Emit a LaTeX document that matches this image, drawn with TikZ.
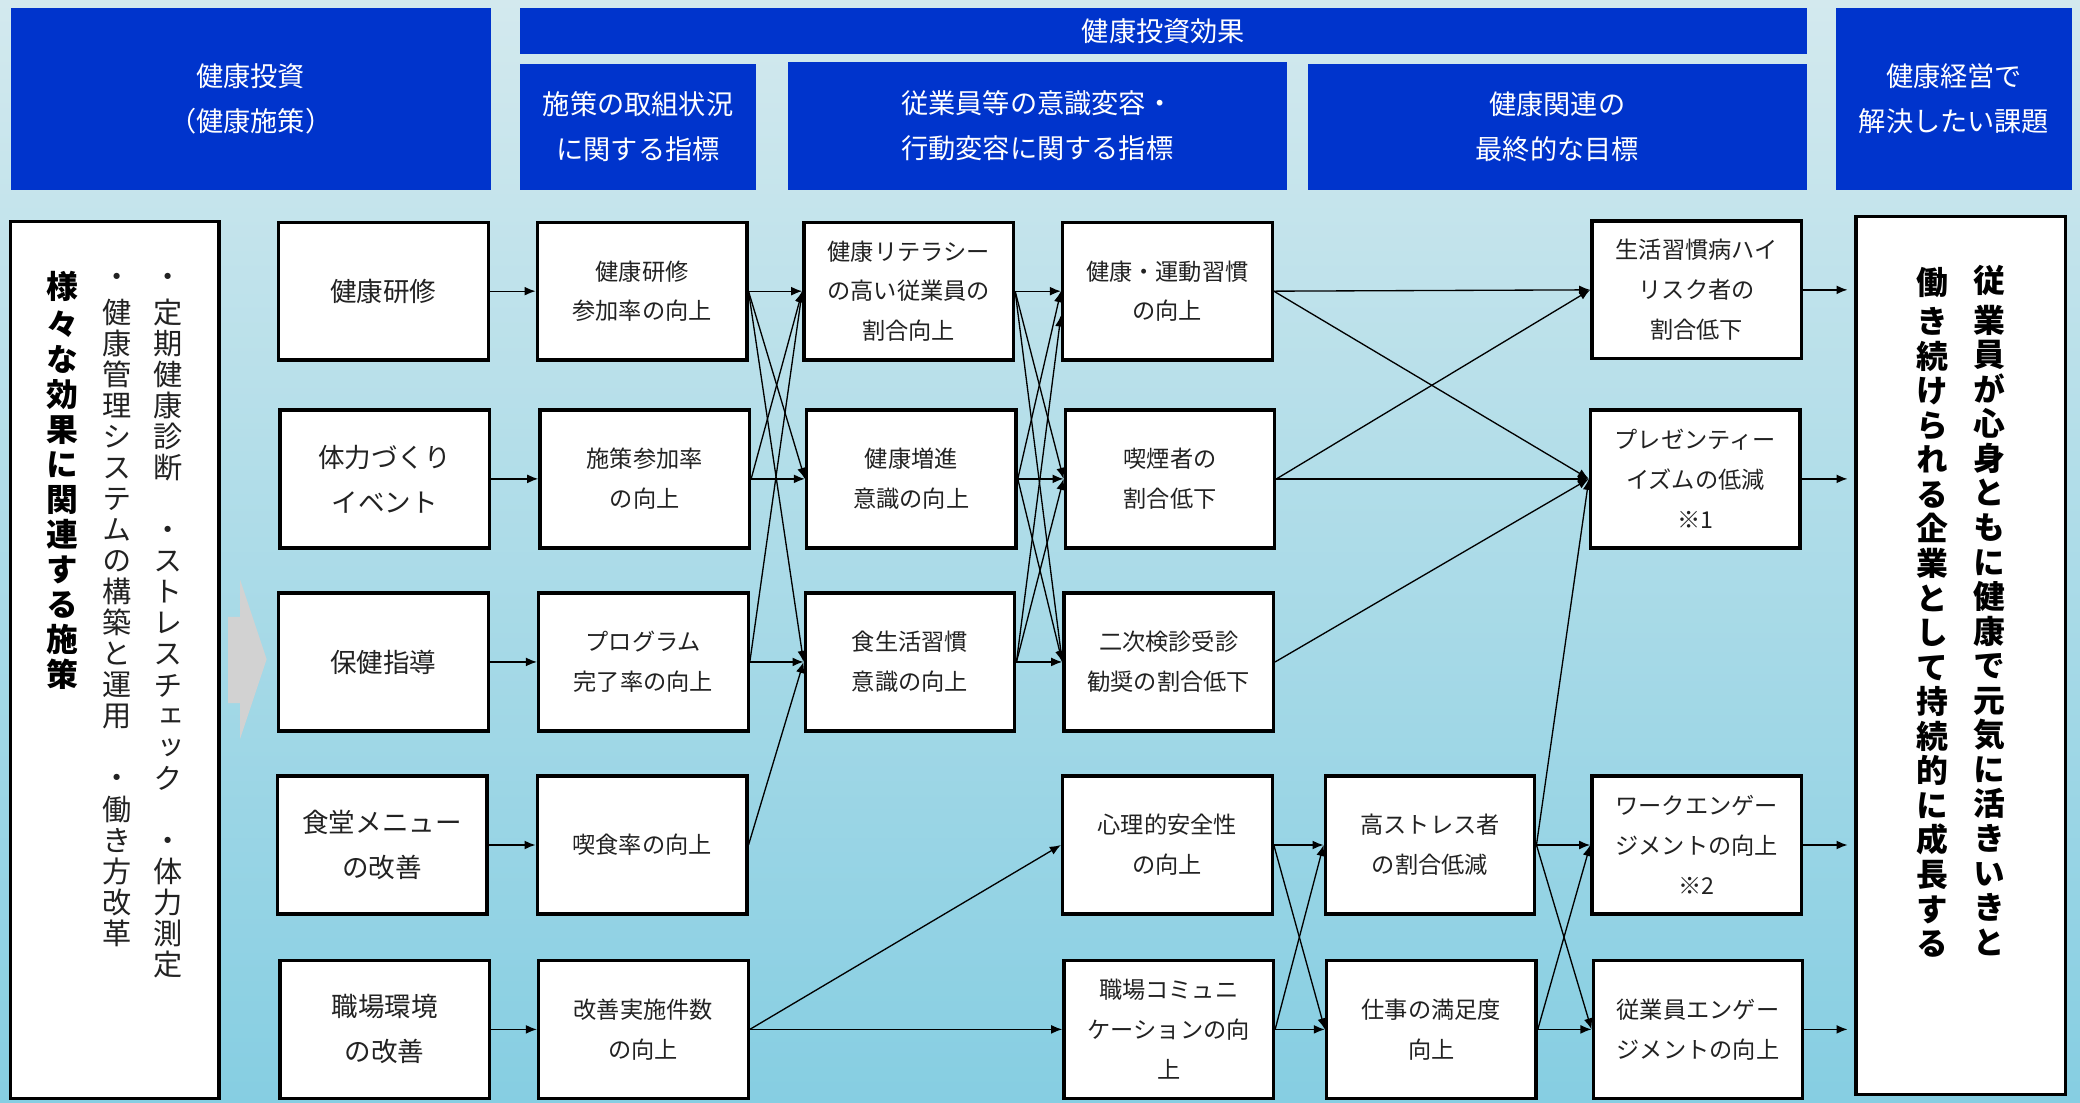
\documentclass[tikz,border=0pt]{standalone}
\usepackage{fontspec}
\setmainfont{Noto Sans CJK JP}
\newfontfamily\vjp{Noto Sans CJK JP}[RawFeature=+vert]
\usetikzlibrary{arrows.meta}
\definecolor{hblue}{RGB}{0,52,204}
\definecolor{bgtop}{RGB}{211,233,238}
\definecolor{bgmid}{RGB}{178,226,236}
\definecolor{bgbot}{RGB}{134,206,226}
\definecolor{agrey}{RGB}{210,210,210}
\definecolor{txt}{RGB}{34,34,34}
\begin{document}
\begin{tikzpicture}[x=0.6pt,y=-0.6pt,
  box/.style={draw=black, line width=1.5pt, fill=white, inner sep=0pt, align=center, text=txt,
              minimum width=94.8pt, minimum height=62.4pt},
  bigtxt/.style={font=\fontsize{12pt}{20.4pt}\selectfont},
  smltxt/.style={font=\fontsize{10.5pt}{18pt}\selectfont},
  hdr/.style={fill=hblue, text=white, inner sep=0pt, align=center,
              font=\fontsize{12.3pt}{20.4pt}\selectfont},
  vbold/.style={inner sep=0pt, anchor=north, align=center, text=black,
              font=\vjp\bfseries\fontsize{14.4pt}{15.84pt}\selectfont},
  vboldr/.style={inner sep=0pt, anchor=north, align=center, text=black,
              font=\vjp\bfseries\fontsize{14.4pt}{15.63pt}\selectfont},
  vthin/.style={inner sep=0pt, anchor=north, align=center, text=txt,
              font=\vjp\fontsize{13.2pt}{14.04pt}\selectfont},
  edge/.style={draw=black, line width=0.6pt, -{Latex[length=5pt,width=4pt]}}
]
\useasboundingbox (0,0) rectangle (1568,831);
\shade[top color=bgtop, middle color=bgmid, bottom color=bgbot] (0,0) rectangle (1568,831);

% headers
\node[hdr, minimum width=217.2pt, minimum height=82.2pt] (h1) at (189,74.5) {健康投資\\（健康施策）};
\node[hdr, minimum width=582pt, minimum height=21pt] (h2) at (877,23.5) {健康投資効果};
\node[hdr, minimum width=106.8pt, minimum height=57pt] (h3) at (481,95.5) {施策の取組状況\\に関する指標};
\node[hdr, minimum width=225.6pt, minimum height=57.6pt] (h4) at (782,95) {従業員等の意識変容・\\行動変容に関する指標};
\node[hdr, minimum width=225.6pt, minimum height=57pt] (h5) at (1174,95.5) {健康関連の\\最終的な目標};
\node[hdr, minimum width=106.8pt, minimum height=82.2pt] (h6) at (1473,74.5) {健康経営で\\解決したい課題};

% big side boxes
\node[box, minimum width=94.2pt, minimum height=396.6pt] (L) at (86.5,497.5) {};
\node[box, minimum width=94.8pt, minimum height=397.2pt] (R) at (1478,494) {};

\node[vbold] (Lt1) at (47,204) {\strut 様\\々\\な\\効\\果\\に\\関\\連\\す\\る\\施\\策};
\node[vthin] (Lt2) at (88,200) {\strut ・\\健\\康\\管\\理\\シ\\ス\\テ\\ム\\の\\構\\築\\と\\運\\用\\　\\・\\働\\き\\方\\改\\革};
\node[vthin] (Lt3) at (127,200) {\strut ・\\定\\期\\健\\康\\診\\断\\　\\・\\ス\\ト\\レ\\ス\\チ\\ェ\\ッ\\ク\\　\\・\\体\\力\\測\\定};
\node[vboldr] (Rt1) at (1500,199.5) {\strut 従\\業\\員\\が\\心\\身\\と\\も\\に\\健\\康\\で\\元\\気\\に\\活\\き\\い\\き\\と};
\node[vboldr] (Rt2) at (1457,201.5) {\strut 働\\き\\続\\け\\ら\\れ\\る\\企\\業\\と\\し\\て\\持\\続\\的\\に\\成\\長\\す\\る};

% grey arrow
\fill[agrey] (172,465) -- (181,465) -- (181,437) -- (201,497) -- (181,557) -- (181,530) -- (172,530) -- cycle;

% column 1
\node[box, bigtxt] (a1) at (289,219.5) {健康研修};
\node[box, bigtxt] (a2) at (290,361) {体力づくり\\イベント};
\node[box, bigtxt] (a3) at (289,499) {保健指導};
\node[box, bigtxt] (a4) at (288,637) {食堂メニュー\\の改善};
\node[box, bigtxt] (a5) at (290,776) {職場環境\\の改善};
% column 2
\node[box, smltxt] (b1) at (484,219.5) {健康研修\\参加率の向上};
\node[box, smltxt] (b2) at (486,361) {施策参加率\\の向上};
\node[box, smltxt] (b3) at (485,499) {プログラム\\完了率の向上};
\node[box, smltxt] (b4) at (484,637) {喫食率の向上};
\node[box, smltxt] (b5) at (485,776) {改善実施件数\\の向上};
% column 3
\node[box, smltxt] (c1) at (685,219.5) {健康リテラシー\\の高い従業員の\\割合向上};
\node[box, smltxt] (c2) at (687,361) {健康増進\\意識の向上};
\node[box, smltxt] (c3) at (686,499) {食生活習慣\\意識の向上};
% column 4
\node[box, smltxt] (d1) at (880,219.5) {健康・運動習慣\\の向上};
\node[box, smltxt] (d2) at (882,361) {喫煙者の\\割合低下};
\node[box, smltxt] (d3) at (881,499) {二次検診受診\\勧奨の割合低下};
\node[box, smltxt] (d4) at (880,637) {心理的安全性\\の向上};
\node[box, smltxt] (d5) at (881,776) {職場コミュニ\\ケーションの向\\上};
% column 5
\node[box, smltxt] (e4) at (1078,637) {高ストレス者\\の割合低減};
\node[box, smltxt] (e5) at (1079,776) {仕事の満足度\\向上};
% column 6
\node[box, smltxt] (f1) at (1279,218.5) {生活習慣病ハイ\\リスク者の\\割合低下};
\node[box, smltxt] (f2) at (1278,361) {プレゼンティー\\イズムの低減\\※1};
\node[box, smltxt] (f4) at (1279,637) {ワークエンゲー\\ジメントの向上\\※2};
\node[box, smltxt] (f5) at (1280,776) {従業員エンゲー\\ジメントの向上};

% edges
\foreach \i in {1,...,5} { \draw[edge] (a\i.east) -- (b\i.west); }
\draw[edge] (b1.east) -- (c1.west);
\draw[edge] (b1.east) -- (c2.west);
\draw[edge] (b1.east) -- (c3.west);
\draw[edge] (b2.east) -- (c1.west);
\draw[edge] (b2.east) -- (c2.west);
\draw[edge] (b3.east) -- (c1.west);
\draw[edge] (b3.east) -- (c3.west);
\draw[edge] (b4.east) -- (c3.west);

\draw[edge] (c1.east) -- (d1.west);
\draw[edge] (c1.east) -- (d2.west);
\draw[edge] (c1.east) -- (d3.west);
\draw[edge] (c2.east) -- (d1.west);
\draw[edge] (c2.east) -- (d2.west);
\draw[edge] (c2.east) -- (d3.west);
\draw[edge] (c3.east) -- ([yshift=-11pt]d1.west);
\draw[edge] (c3.east) -- (d2.west);
\draw[edge] (c3.east) -- (d3.west);

\draw[edge] (d1.east) -- (f1.west);
\draw[edge] (d1.east) -- (f2.west);
\draw[edge] (d2.east) -- (f1.west);
\draw[edge] (d2.east) -- (f2.west);
\draw[edge] (d3.east) -- (f2.west);

\draw[edge] (b5.east) -- (d4.west);
\draw[edge] (b5.east) -- (d5.west);
\draw[edge] (d4.east) -- (e4.west);
\draw[edge] (d4.east) -- (e5.west);
\draw[edge] (d5.east) -- (e4.west);
\draw[edge] (d5.east) -- (e5.west);
\draw[edge] (e4.east) -- (f2.west);
\draw[edge] (e4.east) -- (f4.west);
\draw[edge] (e4.east) -- (f5.west);
\draw[edge] (e5.east) -- (f4.west);
\draw[edge] (e5.east) -- (f5.west);

\foreach \n in {f1,f2,f4,f5} { \draw[edge, shorten >=3pt] (\n.east) -- (\n.east -| R.west); }
\end{tikzpicture}
\end{document}
